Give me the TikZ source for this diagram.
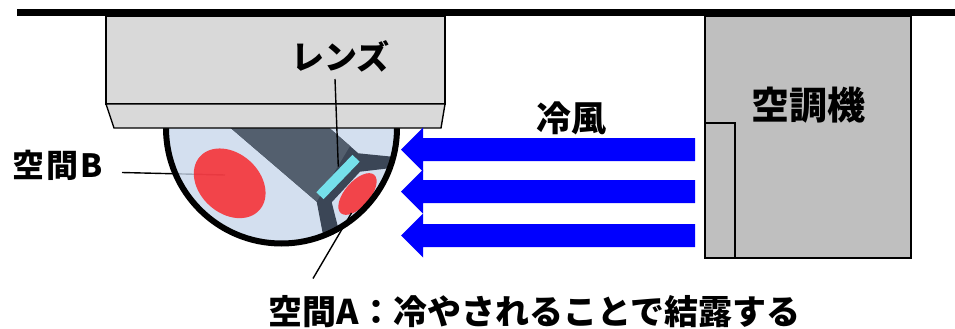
\documentclass[tikz,border=0pt]{standalone}
\usepackage{fontspec}
\newfontfamily\jpfont{Noto Sans CJK JP}
\definecolor{boxgray}{HTML}{D9D9D9}
\definecolor{acgray}{HTML}{BFBFBF}
\definecolor{domeblue}{RGB}{200,215,235}
\definecolor{spotred}{RGB}{250,29,34}
\definecolor{bodyslate}{HTML}{535F6E}
\definecolor{armslate}{HTML}{3B4656}
\definecolor{lenscyan}{HTML}{75E0EA}
\definecolor{windblue}{HTML}{0000FF}
\begin{document}
\begin{tikzpicture}[x=1pt,y=-1pt,
  jp/.style={font=\jpfont\bfseries\fontsize{#1}{#1}\selectfont, inner sep=0pt, text=black},
  leader/.style={draw=black, line width=1.4pt},
  housing/.style={fill=boxgray, draw=black, line width=1.4pt},
  acunit/.style={fill=acgray, draw=black, line width=2pt},
  airflow/.style={fill=windblue},
  spot/.style={fill=spotred, fill opacity=0.8},
]
\useasboundingbox (0,0) rectangle (955,329);

% ceiling
\fill (17,9.5) rectangle (955,16.5);

% leader to space B (runs beneath the translucent dome)
\coordinate (bTail) at (122,172.5);
\coordinate (spotB) at (225,175);
\draw[leader] (bTail) -- (spotB);

% dome cover
\fill[domeblue, fill opacity=0.8] (166,128) arc[start angle=180, end angle=0, radius=115.5] -- cycle;

\begin{scope}
  \clip (281.5,128) circle[radius=115.5];
  % lens holder and its arms
  \fill[armslate] (230.7,128) -- (329.4,128) -- (358.3,153.3) -- (400,157.5) -- (400,167)
    -- (360,171.7) -- (331.7,202.3) -- (340,235) -- (324,240) -- (316.7,201.7) -- cycle;
  \fill[bodyslate] (230.7,128) -- (329.4,128) -- (350,146) -- (316.7,201.7) -- cycle;
  % spaces
  \fill[spot, rotate around={-42:(229.7,183.3)}] (229.7,183.3) ellipse[x radius=40pt, y radius=30pt];
  \fill[spot, rotate around={49:(357.5,194)}] (357.5,194) ellipse[x radius=25.4pt, y radius=12.5pt];
  % lens
  \fill[lenscyan, rotate around={46:(338,177)}] (312,172) rectangle (364,182);
\end{scope}

\draw[line width=6pt] (166,128) arc[start angle=180, end angle=0, radius=115.5];

% camera housing
\draw[housing] (106,16) rectangle (445,104);
\draw[housing] (106,104) -- (445,104) -- (441,128) -- (114,128) -- cycle;

% air conditioner
\draw[acunit] (705,16) rectangle (911,258);
\draw[acunit] (705,123) rectangle (735,258);

% cold air
\foreach \c in {149.7,191.7,235.5}{
  \fill[airflow] (401,\c) -- (423,\c-22) -- (423,\c-11.5) -- (695,\c-11.5)
    -- (695,\c+11.5) -- (423,\c+11.5) -- (423,\c+22) -- cycle;
}

% leaders
\coordinate (lensTail) at (335,79);
\coordinate (lensTip) at (338.3,166.7);
\draw[leader] (lensTail) -- (lensTip);
\coordinate (aTail) at (313,278.5);
\coordinate (spotA) at (351.5,213);
\draw[leader] (aTail) -- (spotA);

% labels
\node[jp=33] (lensLabel) at (340.5,56) {レンズ};
\node[jp=38] (acLabel) at (808,105.5) {空調機};
\node[jp=35] (windLabel) at (571,118) {冷風};
\node[jp=32] (spaceBLabel) at (58,165) {\addfontfeature{LetterSpace=6}空間B};
\node[jp=34] (spaceALabel) at (534.5,311.5) {空間A：冷やされることで結露する};
\end{tikzpicture}
\end{document}
